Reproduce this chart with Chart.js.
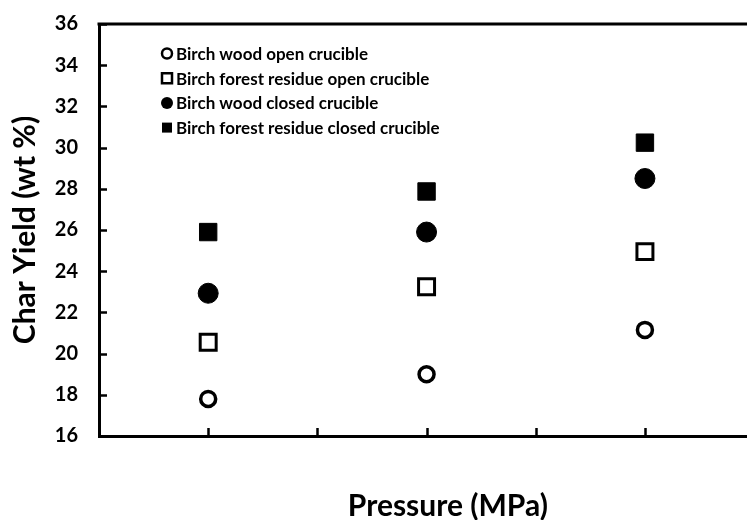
<!DOCTYPE html>
<html>
<head>
<meta charset="utf-8">
<script src="https://cdn.jsdelivr.net/npm/chart.js@4"></script>
<style>
    html, body { margin: 0; padding: 0; background: #fff; overflow: hidden; }
    #wrap { width: 811px; height: 520px; }
</style>
</head>
<body>
<div id="wrap"><canvas id="charChart" width="811" height="520"></canvas></div>
<script>

// ==========================================
// Data
// ==========================================

const pressurePositions = [1, 3, 5];

const birchWoodOpen = [17.8, 19.0, 21.15];
const forestResidueOpen = [20.55, 23.25, 24.95];
const birchWoodClosed = [22.93, 25.9, 28.5];
const forestResidueClosed = [25.9, 27.87, 30.24];

const yTicks = [16, 18, 20, 22, 24, 26, 28, 30, 32, 34, 36];
const xTicks = [1, 2, 3, 4, 5, 6];

const seriesLabels = [
    "Birch wood open crucible",
    "Birch forest residue open crucible",
    "Birch wood closed crucible",
    "Birch forest residue closed crucible"
];

const FONT = "Lato, 'Open Sans', sans-serif";


function toPoints(values) {

    return values.map((v, i) => ({ x: pressurePositions[i], y: v }));

}


// ==========================================
// Inner tick marks + top frame line
// ==========================================

const frameTicks = {

    id: "frameTicks",

    afterDraw(chart) {

        const ctx = chart.ctx;
        const area = chart.chartArea;
        const xs = chart.scales.x;
        const ys = chart.scales.y;

        ctx.save();
        ctx.strokeStyle = "#000";

        ctx.lineWidth = 3;
        ctx.beginPath();
        ctx.moveTo(area.left - 1.5, area.top);
        ctx.lineTo(area.right, area.top);
        ctx.stroke();

        ctx.lineWidth = 2.5;
        ctx.beginPath();

        yTicks.forEach(v => {
            const y = Math.round(ys.getPixelForValue(v)) + 0.5;
            ctx.moveTo(area.left, y);
            ctx.lineTo(area.left + 8, y);
        });

        xTicks.forEach(v => {
            const x = Math.round(xs.getPixelForValue(v)) + 0.5;
            ctx.moveTo(x, area.bottom);
            ctx.lineTo(x, area.bottom - 8);
        });

        ctx.stroke();
        ctx.restore();

    }

};


// ==========================================
// Legend drawn inside the plot
// ==========================================

const innerLegend = {

    id: "innerLegend",

    afterDraw(chart) {

        const ctx = chart.ctx;
        const area = chart.chartArea;
        const mx = area.left + 68;
        const tx = area.left + 77;
        let y = area.top + 29.5;

        ctx.save();
        ctx.font = "bold 17px " + FONT;
        ctx.textBaseline = "middle";
        ctx.fillStyle = "#000";
        ctx.strokeStyle = "#000";

        chart.data.datasets.forEach(ds => {

            ctx.beginPath();

            if (ds.pointStyle === "circle") {
                ctx.arc(mx, y, ds.legendFilled ? 6 : 5, 0, Math.PI * 2);
            } else {
                ctx.rect(mx - 5, y - 5, 10, 10);
            }

            if (ds.legendFilled) {
                ctx.fill();
            } else {
                ctx.lineWidth = 2.5;
                ctx.stroke();
            }

            ctx.fillText(ds.label, tx, y + 1);

            y += 24.7;

        });

        ctx.restore();

    }

};


// ==========================================
// Chart
// ==========================================

const ctx = document.getElementById("charChart").getContext("2d");

new Chart(ctx, {

    type: "scatter",

    data: {

        datasets: [
            {
                label: seriesLabels[0],
                data: toPoints(birchWoodOpen),
                pointStyle: "circle",
                pointRadius: 7.5,
                borderWidth: 3.5,
                borderColor: "#000",
                backgroundColor: "#fff",
                legendFilled: false
            },
            {
                label: seriesLabels[1],
                data: toPoints(forestResidueOpen),
                pointStyle: "rect",
                pointRadius: 11.3,
                borderWidth: 3,
                borderColor: "#000",
                backgroundColor: "#fff",
                legendFilled: false
            },
            {
                label: seriesLabels[2],
                data: toPoints(birchWoodClosed),
                pointStyle: "circle",
                pointRadius: 10,
                borderWidth: 1,
                borderColor: "#000",
                backgroundColor: "#000",
                legendFilled: true
            },
            {
                label: seriesLabels[3],
                data: toPoints(forestResidueClosed),
                pointStyle: "rect",
                pointRadius: 12.3,
                borderWidth: 1,
                borderColor: "#000",
                backgroundColor: "#000",
                legendFilled: true
            }
        ]

    },

    options: {

        responsive: false,
        animation: false,

        layout: {
            padding: { left: 0, top: 24, right: 5, bottom: 0 }
        },

        plugins: {
            legend: { display: false },
            tooltip: { enabled: false }
        },

        scales: {

            x: {
                type: "linear",
                min: 0,
                max: 6.39,
                grid: { display: false, drawTicks: false },
                border: { display: true, color: "#000", width: 3 },
                ticks: { display: false },
                title: {
                    display: true,
                    text: "Pressure (MPa)",
                    color: "#000",
                    font: { family: FONT, size: 30, weight: "bold" },
                    padding: { top: 52, bottom: -4 }
                }
            },

            y: {
                min: 16,
                max: 36,
                // hidden grid, tick length only keeps labels off the axis line
                grid: { display: false, drawTicks: true, tickLength: 21 },
                border: { display: true, color: "#000", width: 3 },
                afterFit(scale) {
                    scale.width = 99;
                },
                afterBuildTicks(scale) {
                    scale.ticks = yTicks.map(v => ({ value: v }));
                },
                ticks: {
                    color: "#000",
                    padding: 0,
                    font: { family: FONT, size: 20, weight: "bold" }
                },
                title: {
                    display: true,
                    text: "Char Yield (wt %)",
                    color: "#000",
                    font: { family: FONT, size: 30, weight: "bold" },
                    padding: { top: 7, bottom: 0 }
                }
            }

        }

    },

    plugins: [frameTicks, innerLegend]

});

</script>
</body>
</html>
